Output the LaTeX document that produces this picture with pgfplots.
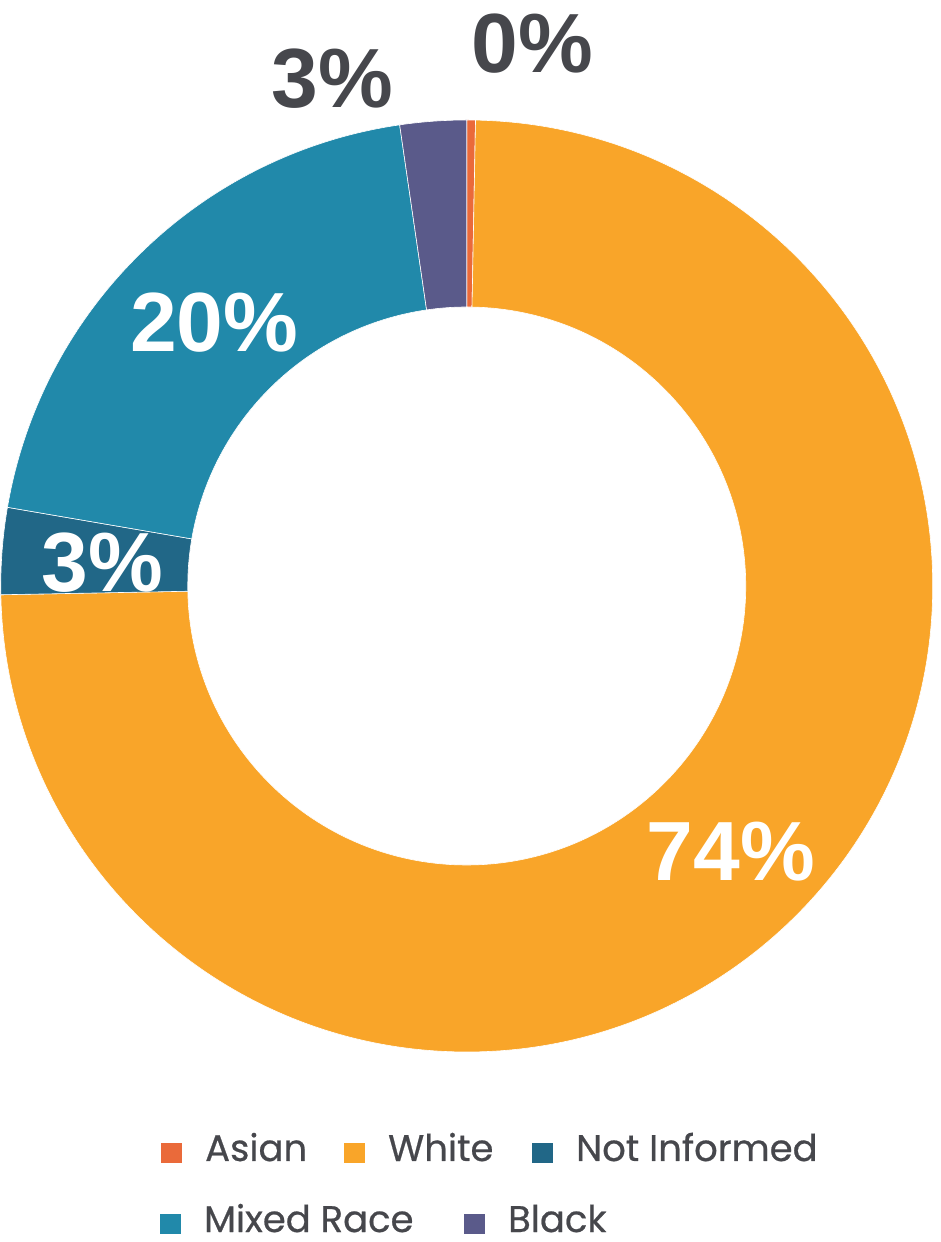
\documentclass[border=0pt]{standalone}
\usepackage{pgfplots}
\usepackage{pgfplotstable}
\pgfplotsset{compat=1.18}
\usepackage{fontspec}
\setmainfont{Liberation Sans}
\newfontfamily\legfont[FakeBold=0.6]{Poppins}

\definecolor{asian}{RGB}{234,106,58}
\definecolor{white}{RGB}{249,165,41}
\definecolor{notinf}{RGB}{33,103,135}
\definecolor{mixed}{RGB}{33,137,170}
\definecolor{black}{RGB}{90,90,138}
\definecolor{txt}{RGB}{70,71,76}
\definecolor{pure}{RGB}{255,255,255}

% share of each group, in percent, clockwise from the top
\pgfplotstableread{
idx value
0 0.3
1 74.4
2 3.0
3 20.0
4 2.3
}\racedata

\def\cum{0}
\pgfplotsforeachungrouped \i in {0,...,4}{%
  \pgfplotstablegetelem{\i}{value}\of\racedata
  \pgfmathsetmacro\a{90-3.6*\cum}%
  \pgfmathsetmacro\cum{\cum+\pgfplotsretval}%
  \pgfmathsetmacro\b{90-3.6*\cum}%
  \expandafter\xdef\csname sA\i\endcsname{\a}%
  \expandafter\xdef\csname sB\i\endcsname{\b}%
}
\def\Rout{233pt}
\def\Rin{139.5pt}
\newcommand\sector[2]{%
  \fill[#1, draw=pure, line width=0.3pt, shift={(axis cs:466,656)}]
    (\csname sA#2\endcsname:\Rout)
    arc[start angle=\csname sA#2\endcsname, end angle=\csname sB#2\endcsname, radius=\Rout]
    -- (\csname sB#2\endcsname:\Rin)
    arc[start angle=\csname sB#2\endcsname, end angle=\csname sA#2\endcsname, radius=\Rin]
    -- cycle;}
\newcommand\pct{\fontsize{42pt}{42pt}\selectfont\bfseries}
\newcommand\leg{\legfont\fontsize{18.5pt}{18.5pt}\selectfont}
\newcommand\legentry[4]{% x of square, y of square bottom, colour, text
  \fill[#3] (axis cs:#1,#2) rectangle (axis cs:#1+21,#2+20);
  \node[anchor=base west, inner sep=0pt, text=txt, font=\leg] at (axis cs:#1+44,#2+2) {#4};}

\begin{document}
\begin{tikzpicture}
\begin{axis}[
  x=0.5pt, y=0.5pt,
  xmin=0, xmax=940, ymin=0, ymax=1242,
  hide axis, clip=false, scale only axis,
]
\path (axis cs:0,0) rectangle (axis cs:940,1242);
\sector{asian}{0}
\sector{white}{1}
\sector{notinf}{2}
\sector{mixed}{3}
\sector{black}{4}

\node[inner sep=0pt, text=pure, font=\pct] at (axis cs:730,390.5) {74\%};
\node[inner sep=0pt, text=pure, font=\pct] at (axis cs:213.5,919.5) {20\%};
\node[inner sep=0pt, text=pure, font=\pct] at (axis cs:101.5,679) {3\%};
\node[inner sep=0pt, text=txt, font=\pct] at (axis cs:331.5,1163.5) {3\%};
\node[inner sep=0pt, text=txt, font=\pct] at (axis cs:531.5,1198) {0\%};

\legentry{160}{79}{asian}{Asian}
\legentry{343}{79}{white}{White}
\legentry{531}{79}{notinf}{Not Informed}
\legentry{159}{8}{mixed}{Mixed Race}
\legentry{463}{8}{black}{Black}
\end{axis}
\end{tikzpicture}
\end{document}
